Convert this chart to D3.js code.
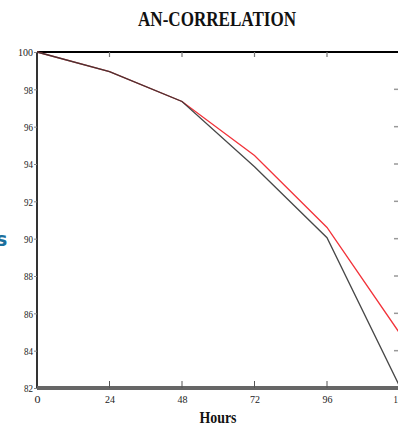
<!DOCTYPE html>
<html><head><meta charset="utf-8">
<script src="https://cdn.jsdelivr.net/npm/d3@7"></script>
<style>body{margin:0;background:#fff;overflow:hidden}svg{display:block}</style>
</head><body>
<script>
const hours = [0, 24, 48, 72, 96, 120];
const blackSeries = [100, 98.95, 97.35, 93.85, 90.05, 82.1];
const redSeries = [100, 98.95, 97.35, 94.45, 90.6, 84.95];
const xTicks = [0, 24, 48, 72, 96, 120];
const yTicks = [82, 84, 86, 88, 90, 92, 94, 96, 98, 100];
const titleText = "AN-CORRELATION";
const xLabel = "Hours";

const W = 398, H = 427;
const svg = d3.select("body").append("svg").attr("width", W).attr("height", H);
const x = d3.scaleLinear().domain([0, 120]).range([37, 399.5]);
const y = d3.scaleLinear().domain([82, 100]).range([388, 52]);

// title
svg.append("text").attr("x", 217).attr("y", 26).attr("text-anchor", "middle")
  .attr("font-family", "Liberation Serif").attr("font-weight", "bold").attr("font-size", 20)
  .attr("textLength", 158).attr("lengthAdjust", "spacingAndGlyphs").attr("fill", "#111").text(titleText);

// partial blue label at far left
svg.append("text").attr("x", -4).attr("y", 246).attr("font-family", "DejaVu Sans").attr("font-weight", "bold")
  .attr("font-size", 19).attr("fill", "#1b6f9c").text("s");

// top border with ticks
svg.append("line").attr("x1", 37).attr("x2", 398).attr("y1", 52).attr("y2", 52).attr("stroke", "#000").attr("stroke-width", 2);
svg.append("g").selectAll("line").data(xTicks.filter(d => d > 0 && d < 120)).join("line")
  .attr("x1", d => x(d)).attr("x2", d => x(d)).attr("y1", 52).attr("y2", 57).attr("stroke", "#777").attr("stroke-width", 1.2);

// right ticks
svg.append("g").selectAll("line").data(yTicks.filter(d => d > 82 && d < 100)).join("line")
  .attr("x1", 394).attr("x2", 398).attr("y1", d => y(d)).attr("y2", d => y(d)).attr("stroke", "#999").attr("stroke-width", 1.5);

// left axis
const yAxis = d3.axisLeft(y).tickValues(yTicks).tickSize(3).tickFormat(d3.format("d"));
const gy = svg.append("g").attr("transform", "translate(37,0)").call(yAxis);
gy.select(".domain").attr("stroke", "#000").attr("stroke-width", 1.6).attr("d", "M0,52V388");
gy.selectAll(".tick line").attr("stroke", "#888");
gy.selectAll(".tick text").attr("font-family", "Liberation Serif").attr("font-size", 11)
  .attr("fill", "#222").attr("x", -4).attr("dy", "0.35em")
  .attr("textLength", 9).attr("lengthAdjust", "spacingAndGlyphs");
gy.selectAll(".tick").filter(d => d === 100).select("text").attr("textLength", 15);

// series lines
const line = d3.line().x((d, i) => x(hours[i])).y(d => y(d));
svg.append("path").datum(redSeries).attr("d", line).attr("fill", "none").attr("stroke", "#f2333a").attr("stroke-width", 1.3);
svg.append("path").datum(blackSeries).attr("d", line).attr("fill", "none").attr("stroke", "#333").attr("stroke-width", 1.3).attr("stroke-opacity", 0.9);

// bottom axis
const xAxis = d3.axisBottom(x).tickValues(xTicks).tickSize(0).tickFormat(d3.format("d"));
const gx = svg.append("g").attr("transform", "translate(0,388)").call(xAxis);
gx.select(".domain").attr("stroke", "#666").attr("stroke-width", 4).attr("d", "M37,0H398");
gx.selectAll(".tick text").attr("font-family", "Liberation Serif").attr("font-size", 11)
  .attr("fill", "#222").attr("y", 7).attr("dy", "0.71em")
  .attr("textLength", d => d === 120 ? 13 : (d === 0 ? 6 : 10)).attr("lengthAdjust", "spacingAndGlyphs");
svg.append("g").selectAll("line").data(xTicks.filter(d => d > 0 && d < 120)).join("line")
  .attr("x1", d => x(d)).attr("x2", d => x(d)).attr("y1", 381).attr("y2", 388).attr("stroke", "#555").attr("stroke-width", 1);

// x label
svg.append("text").attr("x", 218).attr("y", 423).attr("text-anchor", "middle")
  .attr("font-family", "Liberation Serif").attr("font-weight", "bold").attr("font-size", 17)
  .attr("textLength", 37).attr("lengthAdjust", "spacingAndGlyphs").attr("fill", "#111").text(xLabel);
</script>
</body></html>
